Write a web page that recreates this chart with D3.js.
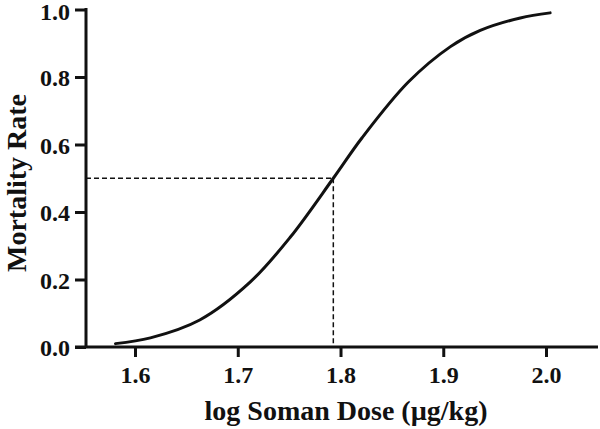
<!DOCTYPE html>
<html><head><meta charset="utf-8">
<script src="https://cdn.jsdelivr.net/npm/d3@7"></script>
<style>body{margin:0;background:#fff}svg{display:block}</style>
</head><body>
<svg id="c" width="600" height="429"></svg>
<script>
// Data
const doseLog = [1.581, 1.615, 1.663, 1.712, 1.751, 1.793, 1.821, 1.866, 1.907, 1.936, 1.975, 2.004];
const mortality = [0.010, 0.027, 0.080, 0.192, 0.325, 0.5, 0.62, 0.785, 0.89, 0.938, 0.975, 0.99];
const xTicks = [1.6, 1.7, 1.8, 1.9, 2.0];
const yTicks = [0.0, 0.2, 0.4, 0.6, 0.8, 1.0];
const ld50 = [1.793, 0.5];
const xTitle = "log Soman Dose (µg/kg)";
const yTitle = "Mortality Rate";

const svg = d3.select("#c");
const font = "'Liberation Serif','Times New Roman',serif";
const x = d3.scaleLinear().domain([1.5523, 2.0506]).range([86, 598]);
const y = d3.scaleLinear().domain([0, 1]).range([347, 9.5]);

// dashed reference lines
svg.append("line").attr("x1", x.range()[0]).attr("x2", x(ld50[0]))
  .attr("y1", y(ld50[1])).attr("y2", y(ld50[1]))
  .attr("stroke", "#111").attr("stroke-width", 1.5).attr("stroke-dasharray", "5,3");
svg.append("line").attr("x1", x(ld50[0])).attr("x2", x(ld50[0]))
  .attr("y1", y(ld50[1])).attr("y2", y(0))
  .attr("stroke", "#111").attr("stroke-width", 1.5).attr("stroke-dasharray", "5,3");

// curve
const pts = doseLog.map((d, i) => [d, mortality[i]]);
svg.append("path").datum(pts)
  .attr("d", d3.line().x(d => x(d[0])).y(d => y(d[1])).curve(d3.curveCatmullRom.alpha(0.5)))
  .attr("fill", "none").attr("stroke", "#111").attr("stroke-width", 3).attr("stroke-linecap", "round");

// axes
const xAxis = svg.append("g").attr("transform", `translate(0,${y(0)})`)
  .call(d3.axisBottom(x).tickValues(xTicks).tickFormat(d3.format(".1f")).tickSizeOuter(0).tickSize(10).tickPadding(9));
const yAxis = svg.append("g").attr("transform", `translate(${x.range()[0]},0)`)
  .call(d3.axisLeft(y).tickValues(yTicks).tickFormat(d3.format(".1f")).tickSizeOuter(0).tickSize(11).tickPadding(5));
[xAxis, yAxis].forEach(g => {
  g.select(".domain").attr("stroke", "#111").attr("stroke-width", 3);
  g.selectAll(".tick line").attr("stroke", "#111").attr("stroke-width", 3);
  g.selectAll(".tick text").attr("fill", "#111").style("font-family", font)
    .style("font-weight", "bold").style("font-size", "24px");
});
xAxis.select(".domain").attr("d", `M${x.range()[0] - 11},0H${x.range()[1]}`);
yAxis.select(".domain").attr("d", `M0,${y(1) - 1.5}V${y(0)}`);
yAxis.selectAll(".tick text").attr("dy", "0.36em");
yAxis.selectAll(".tick").filter(d => d === 1).select("text").attr("dy", "0.42em");

// titles
svg.append("text").attr("x", 346).attr("y", 420).attr("text-anchor", "middle")
  .style("font-family", font).style("font-weight", "bold").style("font-size", "28px")
  .attr("fill", "#111").text(xTitle);
svg.append("text").attr("transform", "translate(26,183) rotate(-90)").attr("text-anchor", "middle")
  .style("font-family", font).style("font-weight", "bold").style("font-size", "28px")
  .attr("fill", "#111").text(yTitle);
</script>
</body></html>
